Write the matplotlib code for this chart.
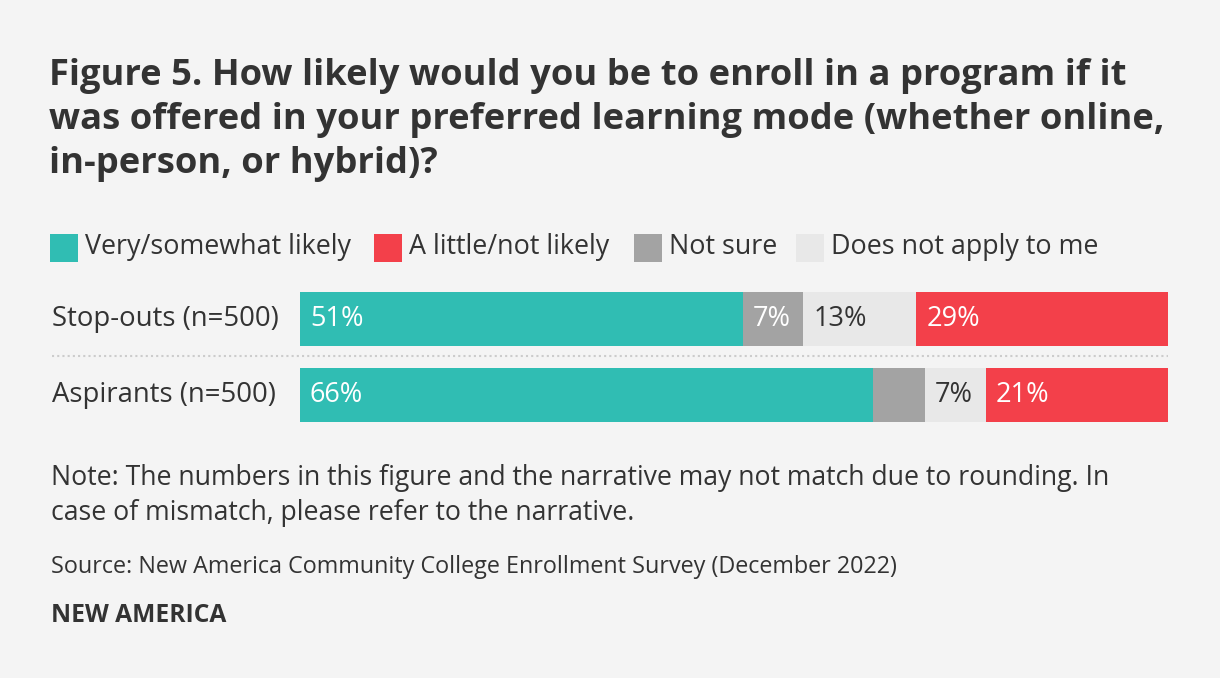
import matplotlib.pyplot as plt
from matplotlib.patches import Rectangle
from matplotlib.lines import Line2D

plt.rcParams['font.family'] = ['Open Sans', 'DejaVu Sans']

# Data
groups = ["Stop-outs (n=500)", "Aspirants (n=500)"]
series = ["Very/somewhat likely", "Not sure", "Does not apply to me", "A little/not likely"]
values = {
    "Very/somewhat likely": [51, 66],
    "Not sure": [7, 6],
    "Does not apply to me": [13, 7],
    "A little/not likely": [29, 21],
}
# labels shown on the bars (the 6% segment has none)
labels = {
    "Very/somewhat likely": ["51%", "66%"],
    "Not sure": ["7%", ""],
    "Does not apply to me": ["13%", "7%"],
    "A little/not likely": ["29%", "21%"],
}
legend_order = ["Very/somewhat likely", "A little/not likely", "Not sure", "Does not apply to me"]

title_lines = [
    "Figure 5. How likely would you be to enroll in a program if it",
    "was offered in your preferred learning mode (whether online,",
    "in-person, or hybrid)?",
]
note_lines = [
    "Note: The numbers in this figure and the narrative may not match due to rounding. In",
    "case of mismatch, please refer to the narrative.",
]
source = "Source: New America Community College Enrollment Survey (December 2022)"
brand = "NEW AMERICA"

colors = {
    "Very/somewhat likely": "#30bdb3",
    "Not sure": "#a3a3a3",
    "Does not apply to me": "#e8e8e8",
    "A little/not likely": "#f3404a",
}
label_colors = {
    "Very/somewhat likely": "white",
    "Not sure": "white",
    "Does not apply to me": "#333333",
    "A little/not likely": "white",
}
bg = "#f4f4f4"
txt = "#333333"

W, H = 1220, 678
fig = plt.figure(figsize=(W / 100, H / 100), dpi=100, facecolor=bg)

def fx(px):
    return px / W

def fy(py):
    return 1 - py / H

# Title
for line, base in zip(title_lines, [85, 129, 173]):
    fig.text(fx(49), fy(base), line, fontsize=26.2, fontweight='bold', color=txt,
             va='baseline', ha='left')

# Legend
lx = [50, 374, 634, 796]
for x, name in zip(lx, legend_order):
    fig.patches.append(Rectangle((fx(x), fy(262)), fx(28), 28 / H, transform=fig.transFigure,
                                 facecolor=colors[name], edgecolor='none'))
    fig.text(fx(x + 35), fy(254), name, fontsize=19.4, color=txt, va='baseline', ha='left')

# Bars
ax = fig.add_axes([fx(300), fy(432), fx(868), 150 / H])
ax.set_facecolor(bg)
ax.set_xlim(0, 100)
ax.set_ylim(1.487, -0.487)
ax.axis('off')

for i, g in enumerate(groups):
    left = 0
    for name in series:
        v = values[name][i]
        ax.barh(i, v, left=left, height=0.71, color=colors[name], edgecolor='none')
        if labels[name][i]:
            ax.text(left + 1.15, i + 0.09, labels[name][i], color=label_colors[name],
                    fontsize=19.5, va='baseline', ha='left')
        left += v
    fig.text(fx(52), fy(326 + 76 * i), g, fontsize=19.8, color=txt, va='baseline', ha='left')

# dotted separator
fig.add_artist(Line2D([fx(52), fx(1168)], [fy(356), fy(356)], transform=fig.transFigure,
                      color='#cccccc', linestyle=(0, (1, 1.5)), linewidth=1.5))

# Notes
for line, base in zip(note_lines, [485, 520]):
    fig.text(fx(51), fy(base), line, fontsize=19.2, color=txt, va='baseline', ha='left')
fig.text(fx(51), fy(573), source, fontsize=16.8, color=txt, va='baseline', ha='left')
fig.text(fx(51), fy(622), brand, fontsize=17.7, fontweight='bold', color=txt,
         va='baseline', ha='left')

fig.savefig("out.png", dpi=100, facecolor=bg)
